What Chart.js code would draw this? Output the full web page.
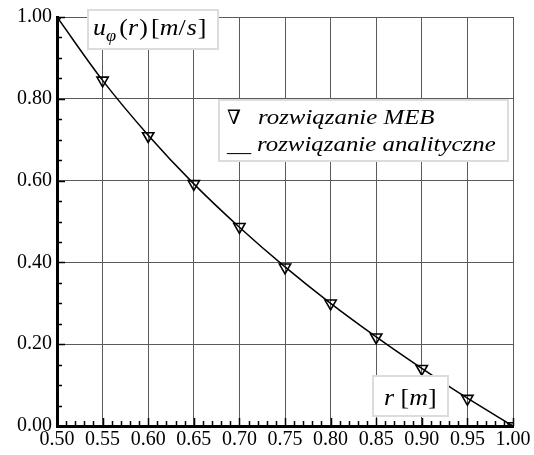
<!DOCTYPE html>
<html>
<head>
<meta charset="utf-8">
<script src="https://cdn.jsdelivr.net/npm/chart.js@4/dist/chart.umd.min.js"></script>
<style>
  body { margin: 0; background: #fff; }
  canvas { display: block; }
</style>
</head>
<body>
<canvas id="chart" width="534" height="455"></canvas>
<script>
// r [m] and u_phi(r) [m/s]
const radii = [0.50, 0.55, 0.60, 0.65, 0.70, 0.75, 0.80, 0.85, 0.90, 0.95, 1.00];
const mebValues = [1.000, 0.845, 0.709, 0.592, 0.487, 0.388, 0.300, 0.217, 0.140, 0.067, 0.000];
const analyticValues = [1.000, 0.845, 0.711, 0.592, 0.486, 0.389, 0.300, 0.218, 0.141, 0.068, 0.000];

const legendLabels = ['rozwiązanie MEB', 'rozwiązanie analityczne'];

const SERIF = '"Liberation Serif", "Times New Roman", Times, serif';

function toPoints(xs, ys) {
  return xs.map((x, i) => ({ x: x, y: ys[i] }));
}

// draws a row of text pieces, stretched horizontally by sx
function drawParts(ctx, parts, x, y, sx) {
  ctx.save();
  ctx.translate(x, y);
  ctx.scale(sx, 1);
  let cx = 0;
  parts.forEach(p => {
    ctx.font = (p.italic ? 'italic ' : '') + p.size + 'px ' + (p.family || SERIF);
    ctx.fillText(p.t, cx, p.dy || 0);
    cx += ctx.measureText(p.t).width + (p.gap || 0);
  });
  ctx.restore();
}

function box(ctx, x, y, w, h) {
  ctx.save();
  ctx.fillStyle = '#fff';
  ctx.fillRect(x, y, w, h);
  ctx.strokeStyle = '#dcdcdc';
  ctx.lineWidth = 2;
  ctx.strokeRect(x, y, w, h);
  ctx.restore();
}

const decorations = {
  id: 'decorations',
  afterDatasetsDraw(chart) {
    const ctx = chart.ctx;
    const xs = chart.scales.x, ys = chart.scales.y;
    const left = chart.chartArea.left, bottom = chart.chartArea.bottom;

    // inner tick marks
    ctx.save();
    ctx.strokeStyle = '#000';
    ctx.lineWidth = 1.5;
    ctx.beginPath();
    for (let i = 0; i <= 20; i++) {
      const py = Math.round(ys.getPixelForValue(i * 0.05)) + 0.5;
      const len = i % 4 === 0 ? 8 : 5;
      ctx.moveTo(left, py);
      ctx.lineTo(left + len, py);
    }
    for (let i = 0; i <= 50; i++) {
      const px = Math.round(xs.getPixelForValue(0.5 + i * 0.01)) + 0.5;
      const len = i % 5 === 0 ? 8 : 5;
      ctx.moveTo(px, bottom);
      ctx.lineTo(px, bottom - len);
    }
    ctx.stroke();
    ctx.restore();

    ctx.save();
    ctx.fillStyle = '#000';
    ctx.textBaseline = 'alphabetic';

    // y-axis quantity
    box(ctx, 88, 10, 130, 39);
    drawParts(ctx, [
      { t: 'u', italic: true, size: 24 },
      { t: 'φ', italic: true, size: 17, dy: 6, gap: 3 },
      { t: '(', size: 24 },
      { t: 'r', italic: true, size: 24, gap: 1 },
      { t: ')', size: 24, gap: 3 },
      { t: '[', size: 24 },
      { t: 'm', italic: true, size: 24 },
      { t: '/', size: 24, gap: 1 },
      { t: 's', italic: true, size: 24, gap: 1 },
      { t: ']', size: 24 }
    ], 93, 35, 1.08);

    // legend
    box(ctx, 219, 100, 289, 61);
    drawParts(ctx, [{ t: '∇', size: 20, family: '"DejaVu Serif", serif' }], 227, 124, 1.0);
    drawParts(ctx, [{ t: legendLabels[0], italic: true, size: 22 }], 258, 124, 1.13);
    drawParts(ctx, [{ t: '__', size: 22 }], 227, 151, 1.1);
    drawParts(ctx, [{ t: legendLabels[1], italic: true, size: 22 }], 257, 151, 1.13);

    // x-axis quantity
    box(ctx, 373, 376, 75, 40);
    drawParts(ctx, [
      { t: 'r', italic: true, size: 24, gap: 6 },
      { t: '[', size: 24 },
      { t: 'm', italic: true, size: 24 },
      { t: ']', size: 24 }
    ], 384, 405, 1.08);
    ctx.restore();
  }
};

new Chart(document.getElementById('chart'), {
  type: 'scatter',
  data: {
    datasets: [
      {
        label: legendLabels[1],
        data: toPoints(radii, analyticValues),
        showLine: true,
        borderColor: '#000',
        borderWidth: 1.5,
        cubicInterpolationMode: 'monotone',
        pointRadius: 0,
        order: 2
      },
      {
        label: legendLabels[0],
        data: toPoints(radii, mebValues),
        showLine: false,
        pointStyle: 'triangle',
        rotation: 180,
        pointRadius: 6.5,
        pointBorderWidth: 1.6,
        pointBorderColor: '#000',
        pointBackgroundColor: 'rgba(255,255,255,0)',
        order: 1
      }
    ]
  },
  options: {
    responsive: false,
    animation: false,
    devicePixelRatio: 1,
    layout: { padding: { top: 7, right: 21, left: 0, bottom: 0 } },
    plugins: {
      legend: { display: false },
      tooltip: { enabled: false }
    },
    scales: {
      x: {
        type: 'linear',
        min: 0.5,
        max: 1.0,
        afterFit: s => { s.height = 29; },
        afterBuildTicks: s => {
          s.ticks = radii.map(v => ({ value: v }));
        },
        ticks: {
          color: '#000',
          font: { family: SERIF, size: 20 },
          padding: 2,
          maxRotation: 0,
          callback: v => Number(v).toFixed(2)
        },
        grid: { color: '#5a5a5a', lineWidth: 1, drawTicks: false },
        border: { color: '#000', width: 3 }
      },
      y: {
        min: 0,
        max: 1,
        afterFit: s => { s.width = 57; },
        ticks: {
          stepSize: 0.2,
          color: '#000',
          font: { family: SERIF, size: 20 },
          padding: 5,
          callback: v => Number(v).toFixed(2)
        },
        grid: { color: '#5a5a5a', lineWidth: 1, drawTicks: false },
        border: { color: '#000', width: 3 }
      }
    }
  },
  plugins: [decorations]
});
</script>
</body>
</html>
